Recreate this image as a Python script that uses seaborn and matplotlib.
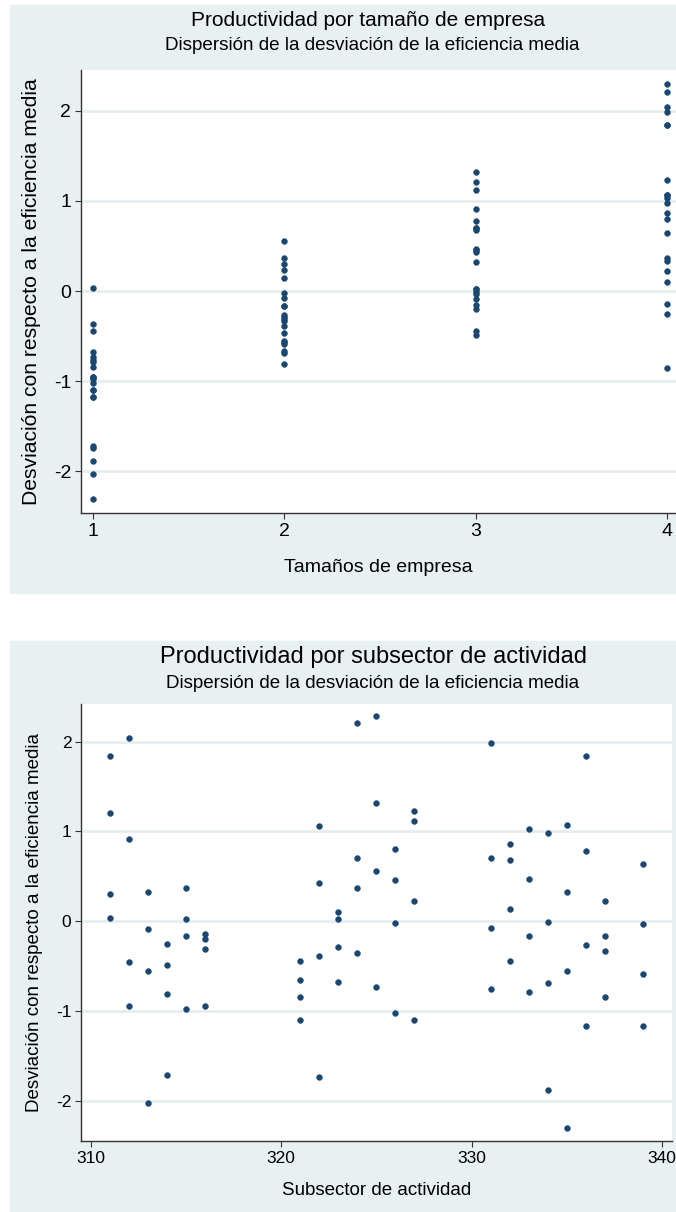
import pandas as pd
import matplotlib
matplotlib.use("Agg")
import matplotlib.pyplot as plt
import seaborn as sns
from matplotlib.patches import Rectangle

# -----------------------------
# DATA (one value per size and subsector)
# -----------------------------
sectors = [311, 312, 313, 314, 315, 316, 321, 322, 323, 324, 325,
           326, 327, 331, 332, 333, 334, 335, 336, 337, 339]
size1 = [0.03, -0.95, -2.03, -1.72, -0.98, -0.95, -1.10, -1.74, -0.68, -0.36, -0.73,
         -1.02, -1.10, -0.76, -0.44, -0.79, -1.88, -2.30, -1.17, -0.84, -1.17]
size2 = [0.30, -0.46, -0.56, -0.81, -0.17, -0.31, -0.66, -0.39, -0.29, 0.37, 0.56,
         -0.02, 0.23, -0.08, 0.14, -0.17, -0.69, -0.55, -0.27, -0.33, -0.59]
size3 = [1.21, 0.91, -0.09, -0.49, 0.02, -0.20, -0.44, 0.43, 0.02, 0.70, 1.32,
         0.46, 1.12, 0.70, 0.68, 0.47, -0.01, 0.32, 0.78, -0.16, -0.03]
size4 = [1.84, 2.04, 0.33, -0.25, 0.37, -0.14, -0.85, 1.06, 0.10, 2.21, 2.29,
         0.80, 1.23, 1.98, 0.86, 1.03, 0.98, 1.07, 1.84, 0.22, 0.64]

sizes = [1, 2, 3, 4]
title1 = "Productividad por tamaño de empresa"
title2 = "Productividad por subsector de actividad"
subtitle = "Dispersión de la desviación de la eficiencia media"
ylabel = "Desviación con respecto a la eficiencia media"

rows = []
for s, vals in zip(sizes, [size1, size2, size3, size4]):
    for sec, v in zip(sectors, vals):
        rows.append({"sector": sec, "size": s, "desv": v})
df = pd.DataFrame(rows)

# -----------------------------
# STYLE
# -----------------------------
sns.set_style("white")
plt.rcParams['font.family'] = ['Liberation Sans', 'DejaVu Sans']
plt.rcParams['text.color'] = 'black'
plt.rcParams['axes.labelcolor'] = 'black'
plt.rcParams['xtick.color'] = 'black'
plt.rcParams['ytick.color'] = 'black'

W, H = 676, 1212
BG = "#E8F0F2"
GRID = "#E4ECEF"
NAVY = "#1A476F"

fig = plt.figure(figsize=(W / 100, H / 100), dpi=100)


def fx(px):
    return px / W


def fy(py):
    return 1 - py / H


# panel backgrounds (behind the axes)
fig.patches.append(Rectangle((fx(10), fy(593)), fx(676) - fx(10), fy(5) - fy(593),
                             transform=fig.transFigure, color=BG, zorder=-5))
fig.patches.append(Rectangle((fx(10), fy(1212)), fx(676) - fx(10), fy(641) - fy(1212),
                             transform=fig.transFigure, color=BG, zorder=-5))


def style_axes(ax, tick_size):
    ax.set_facecolor("white")
    for side in ["top", "right"]:
        ax.spines[side].set_visible(False)
    for side in ["left", "bottom"]:
        ax.spines[side].set_color("#333333")
        ax.spines[side].set_linewidth(1.0)
    ax.set_yticks([-2, -1, 0, 1, 2])
    ax.set_yticklabels(["-2", "-1", "0", "1", "2"])
    ax.yaxis.grid(True, color=GRID, linewidth=1.8)
    ax.xaxis.grid(False)
    ax.set_axisbelow(True)
    ax.tick_params(axis="both", direction="out", length=4, width=0.8,
                   color="#333333", labelsize=tick_size, pad=3,
                   left=True, bottom=True)


# -----------------------------
# CHART 1 — by firm size
# -----------------------------
ax1 = fig.add_axes([fx(81), fy(513), fx(676) - fx(81), fy(70) - fy(513)])
sns.scatterplot(data=df, x="size", y="desv", ax=ax1, color=NAVY, s=18,
                edgecolor=NAVY, linewidth=0.3, zorder=3)
ax1.set_xlim(0.937, 4.047)
ax1.set_ylim(-2.46, 2.45)
ax1.set_xticks(sizes)
ax1.set_xticklabels([str(s) for s in sizes])
style_axes(ax1, 14)
ax1.set_xlabel("Tamaños de empresa", fontsize=14, labelpad=14)
ax1.set_ylabel(ylabel, fontsize=15.2, labelpad=9)
fig.text(fx(368), fy(20), title1, ha="center", va="center", fontsize=15)
fig.text(fx(372), fy(46), subtitle, ha="center", va="center", fontsize=13.6)

# -----------------------------
# CHART 2 — by activity subsector
# -----------------------------
ax2 = fig.add_axes([fx(81), fy(1141), fx(672) - fx(81), fy(704) - fy(1141)])
sns.scatterplot(data=df, x="sector", y="desv", ax=ax2, color=NAVY, s=18,
                edgecolor=NAVY, linewidth=0.3, zorder=3)
ax2.set_xlim(309.50, 340.52)
ax2.set_ylim(-2.45, 2.42)
ax2.set_xticks([310, 320, 330, 340])
ax2.set_xticklabels(["310", "320", "330", "340"])
style_axes(ax2, 12.5)
ax2.set_xlabel("Subsector de actividad", fontsize=13.5, labelpad=12)
ax2.set_ylabel(ylabel, fontsize=13.5, labelpad=9)
fig.text(fx(373), fy(657), title2, ha="center", va="center", fontsize=17)
fig.text(fx(373), fy(683), subtitle, ha="center", va="center", fontsize=13.5)

fig.savefig("out.png", dpi=100)
